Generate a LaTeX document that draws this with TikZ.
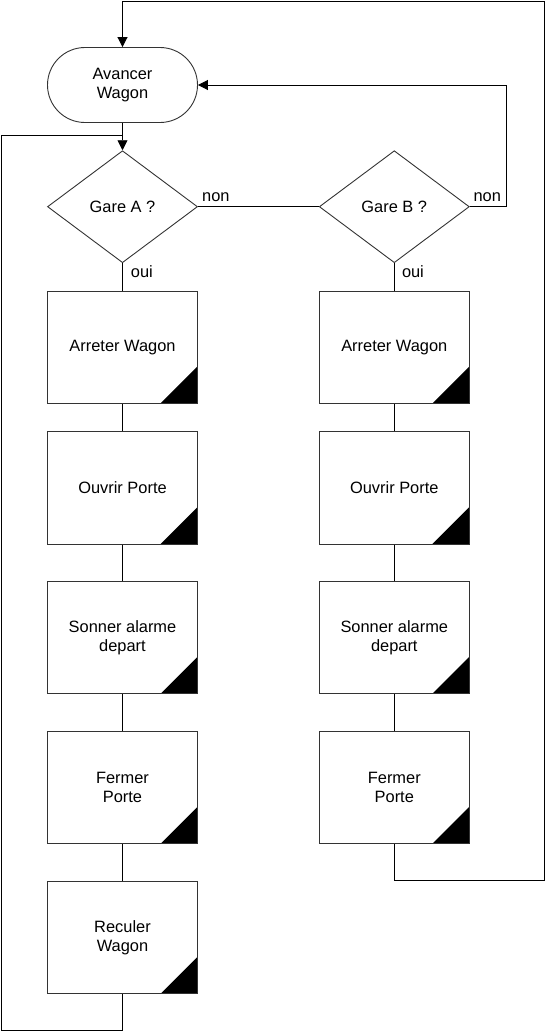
\documentclass[tikz,border=0pt]{standalone}
\usepackage{fontspec}
\setmainfont{Liberation Sans}
\usetikzlibrary{shapes.geometric,arrows.meta}
\begin{document}
\begin{tikzpicture}[x=1bp,y=-1bp,
  every node/.style={font=\fontsize{16.4bp}{19.5bp}\selectfont},
  term/.style={draw=black!80, line width=0.9bp, rounded corners=37.5bp, minimum width=150bp, minimum height=75bp, align=center, inner sep=0pt},
  dec/.style={draw=black!80, line width=0.9bp, shape=diamond, minimum width=150bp, minimum height=112bp, inner sep=0pt, align=center},
  stepbox/.style={draw=black!80, line width=0.9bp, minimum width=150bp, minimum height=112.5bp, inner sep=0pt, align=center,
    path picture={\fill[black] (path picture bounding box.south east) -- ++(-37bp,0bp) -- ++(37bp,37bp) -- cycle;}},
  lbl/.style={anchor=base west, inner sep=0pt},
  conn/.style={draw=black, line width=0.9bp},
  arr/.style={conn, -{Triangle[length=10bp,width=10bp]}}]
\useasboundingbox (0,0) rectangle (545,1032);

\node[term] (T) at (122.5,85) {Avancer\\Wagon};
\node[dec] (DA) at (122.5,206.7) {Gare A ?};
\node[dec] (DB) at (394.3,206.7) {Gare B ?};

\node[stepbox] (A1) at (122.5,347.2) {Arreter Wagon};
\node[stepbox] (A2) at (122.5,487.8) {Ouvrir Porte};
\node[stepbox] (A3) at (122.5,637.6) {Sonner alarme\\depart};
\node[stepbox] (A4) at (122.5,787.5) {Fermer\\Porte};
\node[stepbox] (A5) at (122.5,937.5) {Reculer\\Wagon};

\node[stepbox] (B1) at (394.3,347.2) {Arreter Wagon};
\node[stepbox] (B2) at (394.3,487.8) {Ouvrir Porte};
\node[stepbox] (B3) at (394.3,637.6) {Sonner alarme\\depart};
\node[stepbox] (B4) at (394.3,787.5) {Fermer\\Porte};

\node[lbl] (nA) at (202,201.7) {non};
\node[lbl] (nB) at (473.4,201.7) {non};
\node[lbl] (oA) at (130.7,277.7) {oui};
\node[lbl] (oB) at (401.8,277.7) {oui};

\coordinate (j) at (122.5,135.7);
\coordinate (rB) at (506.4,85);
\coordinate (rb) at (544,880.8);
\coordinate (tr) at (544,1.5);
\coordinate (lb) at (1.5,1030.7);

\draw[arr] (T.south) -- (DA.north);
\draw[conn] (DA.east) -- (DB.west);
\draw[arr] (DB.east) -| (rB) -- (T.east);
\draw[arr] (B4.south) |- (rb) -- (tr) -| (T.north);
\draw[conn] (A5.south) |- (lb) |- (j);

\draw[conn] (DA.south) -- (A1.north);
\draw[conn] (A1.south) -- (A2.north);
\draw[conn] (A2.south) -- (A3.north);
\draw[conn] (A3.south) -- (A4.north);
\draw[conn] (A4.south) -- (A5.north);

\draw[conn] (DB.south) -- (B1.north);
\draw[conn] (B1.south) -- (B2.north);
\draw[conn] (B2.south) -- (B3.north);
\draw[conn] (B3.south) -- (B4.north);
\end{tikzpicture}
\end{document}
